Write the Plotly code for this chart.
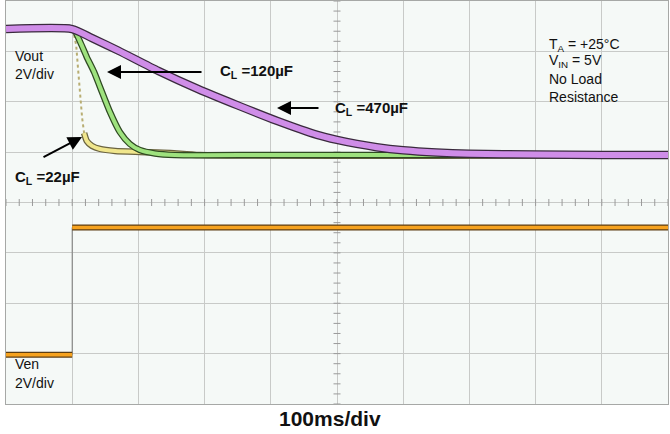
import numpy as np
import plotly.graph_objects as go

# ---- data (time in ms, voltages in V) ----
time_470 = [0, 100, 130, 170, 230, 290, 350, 410, 470, 500, 530, 560, 600, 650, 700, 800, 900, 1000]
vout_470 = [5.0, 5.0, 4.64, 4.14, 3.34, 2.62, 1.97, 1.35, 0.80, 0.60, 0.44, 0.31, 0.19, 0.10, 0.05, 0.02, 0.0, 0.0]

time_120 = [0, 101, 112, 122, 133, 142, 157, 172, 187, 202, 225, 255, 400, 1000]
vout_120 = [5.0, 5.0, 4.49, 3.89, 3.30, 2.70, 1.71, 0.91, 0.44, 0.20, 0.06, 0.0, 0.0, 0.0]

time_22 = [0, 101, 106, 109, 112, 115, 118, 122, 130, 142, 165, 202, 248, 293, 1000]
vout_22 = [5.0, 5.0, 4.37, 3.37, 2.38, 1.47, 0.87, 0.56, 0.36, 0.24, 0.16, 0.12, 0.08, 0.0, 0.0]

ven_time = [0, 100, 100, 1000]
ven_volts = [0.0, 0.0, 5.05, 5.05]

# screen layout constants (divisions)
VOUT_GND_DIV = 0.943
VEN_GND_DIV = -3.02
V_PER_DIV = 2.0

FONT = "Liberation Sans, Arial, sans-serif"

fig = go.Figure()

def band(x, y, axis, color, edge, w, name, shape="linear"):
    fig.add_trace(go.Scatter(x=x, y=y, yaxis=axis, mode="lines",
                             line=dict(color=edge, width=w + 2.5, shape=shape, smoothing=0.6),
                             hoverinfo="skip", showlegend=False))
    fig.add_trace(go.Scatter(x=x, y=y, yaxis=axis, mode="lines",
                             line=dict(color=color, width=w, shape=shape, smoothing=0.6),
                             name=name, showlegend=False))

# center graticule minor ticks
tick_x = np.arange(0, 1001, 20)
tick_y = np.arange(-4, 4.001, 0.2)
fig.add_trace(go.Scatter(x=tick_x, y=[0] * len(tick_x), mode="markers",
                         marker=dict(symbol="line-ns", size=5, line=dict(width=1, color="#9a9a9a")),
                         hoverinfo="skip", showlegend=False))
fig.add_trace(go.Scatter(x=[500] * len(tick_y), y=tick_y, mode="markers",
                         marker=dict(symbol="line-ew", size=5, line=dict(width=1, color="#9a9a9a")),
                         hoverinfo="skip", showlegend=False))

# Ven: thin edge, then thick bands
fig.add_trace(go.Scatter(x=ven_time, y=ven_volts, yaxis="y3", mode="lines",
                         line=dict(color="#7a7a7a", width=1), hoverinfo="skip", showlegend=False))
band(ven_time[0:2], ven_volts[0:2], "y3", "#f6a21e", "#5c3d12", 3.5, "Ven")
band(ven_time[2:4], ven_volts[2:4], "y3", "#f6a21e", "#5c3d12", 3.5, "Ven")

# Vout 22uF: fast edge thin dotted, tail thick
fig.add_trace(go.Scatter(x=time_22[1:8], y=vout_22[1:8], yaxis="y2", mode="lines",
                         line=dict(color="#b8ad72", width=2, dash="dot"), hoverinfo="skip", showlegend=False))
band(time_22[6:], vout_22[6:], "y2", "#f0e68c", "#6b6440", 4, "CL=22uF", "spline")
band(time_120, vout_120, "y2", "#9ee27e", "#2f4a22", 4, "CL=120uF", "spline")
band(time_470, vout_470, "y2", "#cf8de8", "#3a2a3e", 6, "CL=470uF", "spline")

axis_common = dict(showticklabels=False, showgrid=True, gridcolor="#c8cac8", gridwidth=1,
                   zeroline=False, showline=True, linecolor="#a6a8a6", linewidth=1, mirror=True,
                   ticks="")
fig.update_layout(
    width=670, height=434,
    margin=dict(l=6, r=2, t=1, b=30),
    paper_bgcolor="white", plot_bgcolor="#f5f9f7",
    xaxis=dict(range=[0, 1000], dtick=100, **axis_common),
    yaxis=dict(range=[-4, 4], dtick=1, **axis_common),
    yaxis2=dict(overlaying="y", visible=False,
                range=[(-4 - VOUT_GND_DIV) * V_PER_DIV, (4 - VOUT_GND_DIV) * V_PER_DIV]),
    yaxis3=dict(overlaying="y", visible=False,
                range=[(-4 - VEN_GND_DIV) * V_PER_DIV, (4 - VEN_GND_DIV) * V_PER_DIV]),
    font=dict(family=FONT, color="black"),
)

def txt(x, y, s, size=14, bold=False):
    fig.add_annotation(x=x, y=y, xref="x", yref="y", text=(f"<b>{s}</b>" if bold else s),
                       showarrow=False, xanchor="left", yanchor="middle",
                       font=dict(family=FONT, size=size, color="#111"))

txt(10.6, 2.908, "Vout")
txt(10.6, 2.551, "2V/div")
txt(10.6, -3.206, "Ven")
txt(10.6, -3.583, "2V/div")
txt(320, 2.591, "C<sub>L</sub> =120µF", 15, True)
txt(494, 1.876, "C<sub>L</sub> =470µF", 15, True)
txt(10.6, 0.506, "C<sub>L</sub> =22µF", 15, True)
txt(817, 3.127, "T<sub>A</sub> = +25°C")
txt(817, 2.809, "V<sub>IN</sub> = 5V")
txt(817, 2.452, "No Load")
txt(817, 2.094, "Resistance")

def arrow(x0, y0, x1, y1):
    fig.add_annotation(x=x1, y=y1, ax=x0, ay=y0, xref="x", yref="y", axref="x", ayref="y",
                       text="", showarrow=True, arrowhead=2, arrowsize=1.4, arrowwidth=2,
                       arrowcolor="black")

arrow(297.6, 2.591, 152.6, 2.591)
arrow(474.3, 1.876, 409.4, 1.876)
arrow(54.4, 0.883, 114.8, 1.300)

fig.add_annotation(x=489, y=-0.037, xref="x", yref="paper", text="<b>100ms/div</b>",
                   showarrow=False, xanchor="center", yanchor="middle",
                   font=dict(family=FONT, size=21, color="#111"))

fig.write_html("out.html", config={"displayModeBar": False},
               post_script="document.body.style.margin='0';")
